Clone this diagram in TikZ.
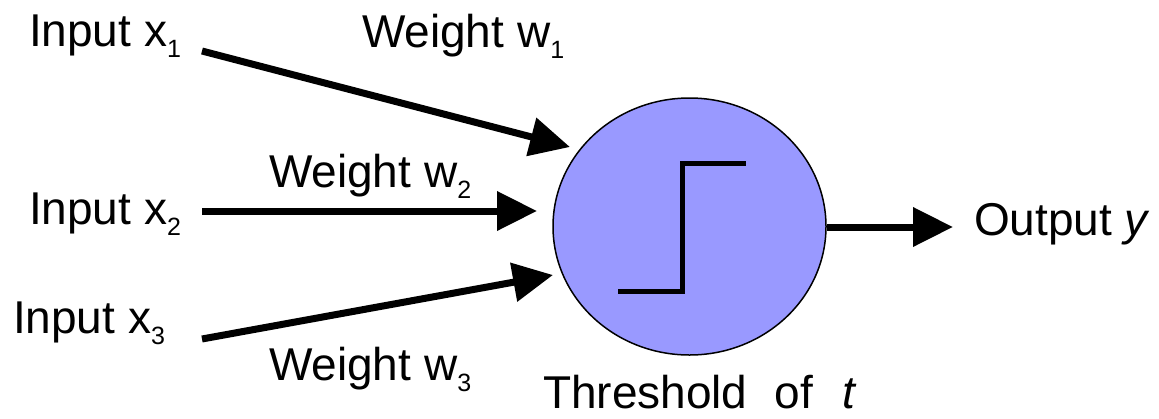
\documentclass[tikz,border=0pt]{standalone}
\usepackage{fontspec}
\setmainfont{Liberation Sans}
\usetikzlibrary{arrows.meta,shapes.geometric}
\definecolor{neuronfill}{HTML}{9999FF}
\newcommand\lowsub[1]{\raisebox{-11pt}{\fontsize{25}{25}\selectfont #1}}
\begin{document}
\begin{tikzpicture}[x=1pt,y=-1pt,
  lbl/.style={anchor=base west,inner sep=0pt,outer sep=0pt,font=\fontsize{46}{50}\selectfont},
  arr/.style={line width=7pt,-{Triangle[length=40pt,width=38pt]}},
  neuron/.style={ellipse,draw=black,line width=1.5pt,fill=neuronfill,minimum width=273pt,minimum height=257pt,inner sep=0pt},
  stepline/.style={line width=5pt}]
\useasboundingbox (0,0) rectangle (1159,418);
% neuron
\node[neuron] (n) at (689.5,226.5) {};
\draw[stepline] (618,291) -- (682,291) -- (682,163) -- (746,163);
% labels
\node[lbl] (in1) at (29,46) {Input x\lowsub{1}};
\node[lbl] (in2) at (29,224) {Input x\lowsub{2}};
\node[lbl] (in3) at (13,333) {Input x\lowsub{3}};
\node[lbl] (w1) at (362,47) {Weight w\lowsub{1}};
\node[lbl] (w2) at (269,187) {Weight w\lowsub{2}};
\node[lbl] (w3) at (269,380) {Weight w\lowsub{3}};
\node[lbl] (out) at (974,235) {Output \textit{y}};
\node[lbl] (thr) at (543,408) {Threshold\hspace{27pt}of\hspace{30pt}\textit{t}};
% connector end points
\coordinate (s1) at (202,51);
\coordinate (s2) at (202,211);
\coordinate (s3) at (202,339);
\coordinate (t1) at (570,147);
\coordinate (t2) at (537,211);
\coordinate (t3) at (553,275);
\coordinate (to) at (953,227);
\coordinate (so) at (n.east);
% arrows
\draw[arr] (s1) -- (t1);
\draw[arr] (s2) -- (t2);
\draw[arr] (s3) -- (t3);
\draw[arr] (n.east |- to) -- (to);
\end{tikzpicture}
\end{document}
